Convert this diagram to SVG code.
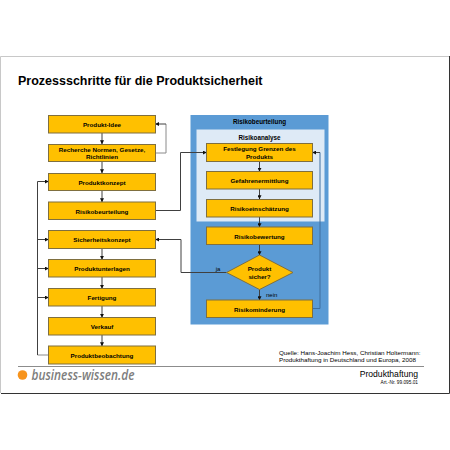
<svg xmlns="http://www.w3.org/2000/svg" width="450" height="450" viewBox="0 0 450 450">
<style>
text{font-family:"Liberation Sans",Arial,sans-serif;fill:#000}
.b rect,.b polygon{fill:#ffc000;stroke:#7f6f3f;stroke-width:1}
.b text{font-size:6.250px;font-weight:bold;text-anchor:middle}
.c path{fill:none;stroke:#404040;stroke-width:1}
.g{stroke:#8a8a8a!important}
.h{font-size:6.300px;font-weight:bold;text-anchor:middle}
</style>
<defs><marker id="a" viewBox="0 0 6 6" refX="5.500" refY="3" markerWidth="4" markerHeight="4" orient="auto" markerUnits="userSpaceOnUse"><path d="M0 0L6 3L0 6Z" fill="#111"/></marker></defs>
<rect width="450" height="450" fill="#fff"/>
<g id="frame">
<path d="M0.500 393V56.500H449" fill="none" stroke="#c8c8c8" stroke-width="1"/>
<path d="M1 393.500H449.500V56" fill="none" stroke="#333" stroke-width="1"/>
<path d="M18 366.500H424" fill="none" stroke="#8c8c8c" stroke-width="1"/>
</g>
<text id="title" x="18" y="84.500" font-size="12.500" font-weight="bold">Prozessschritte für die Produktsicherheit</text>
<g id="panels">
<rect x="190.500" y="115" width="138" height="209.500" fill="#5b9bd5"/>
<rect x="196.500" y="129.500" width="128" height="92" fill="#deeaf6"/>
<text class="h" x="259.500" y="123.500">Risikobeurteilung</text>
<text class="h" x="259.500" y="139.500">Risikoanalyse</text>
</g>
<g id="connectors" class="c">
<path marker-end="url(#a)" d="M102 133V144"/>
<path marker-end="url(#a)" d="M102 161.500V173"/>
<path marker-end="url(#a)" d="M102 190.500V202"/>
<path marker-end="url(#a)" d="M102 248.500V259.500"/>
<path marker-end="url(#a)" d="M102 277V288.500"/>
<path marker-end="url(#a)" d="M102 306V317.500"/>
<path marker-end="url(#a)" d="M102 335V346"/>
<path class="g" d="M155.500 153H166V124"/><path marker-end="url(#a)" d="M166 124H155.500"/>
<path class="g" d="M48.500 355H37.500"/><path marker-end="url(#a)" d="M37.500 355V181.500H48.500"/>
<path marker-end="url(#a)" d="M37.500 239.500H48.500"/>
<path marker-end="url(#a)" d="M37.500 268.500H48.500"/>
<path marker-end="url(#a)" d="M37.500 297.500H48.500"/>
<path marker-end="url(#a)" d="M155.500 210.500H180.500V152.500H206.500"/>
<path marker-end="url(#a)" d="M226.500 272.500H181V239.500H155.500"/>
<path marker-end="url(#a)" d="M259.500 161.500V171.500"/>
<path marker-end="url(#a)" d="M259.500 189V199"/>
<path marker-end="url(#a)" d="M259.500 217V227"/>
<path marker-end="url(#a)" d="M259.500 244.500V255"/>
<path marker-end="url(#a)" d="M259.500 289.500V300"/>
<path style="stroke:#3f6f9f" d="M312.500 308.500H320V152.500"/><path marker-end="url(#a)" d="M320 152.500H312.500"/>
</g>
<g class="b">
<g id="n1"><rect x="48.500" y="115.500" width="107" height="17.500"/><text x="102" y="126.500">Produkt-Idee</text></g>
<g id="n2"><rect x="48.500" y="144.500" width="107" height="17"/><text x="102" y="151.500">Recherche Normen, Gesetze,</text><text x="102" y="159.300">Richtlinien</text></g>
<g id="n3"><rect x="48.500" y="173.500" width="107" height="17"/><text x="102" y="184.500">Produktkonzept</text></g>
<g id="n4"><rect x="48.500" y="202" width="107" height="17.500"/><text x="102" y="213.500">Risikobeurteilung</text></g>
<g id="n5"><rect x="48.500" y="230.500" width="107" height="18"/><text x="102" y="242">Sicherheitskonzept</text></g>
<g id="n6"><rect x="48.500" y="259.500" width="107" height="17.500"/><text x="102" y="271">Produktunterlagen</text></g>
<g id="n7"><rect x="48.500" y="288.500" width="107" height="17.500"/><text x="102" y="300">Fertigung</text></g>
<g id="n8"><rect x="48.500" y="317.500" width="107" height="17.500"/><text x="102" y="329">Verkauf</text></g>
<g id="n9"><rect x="48.500" y="346" width="107" height="18"/><text x="102" y="357.500">Produktbeobachtung</text></g>
<g id="r1"><rect x="206.500" y="143.500" width="106" height="18"/><text x="259.500" y="151.300">Festlegung Grenzen des</text><text x="259.500" y="159">Produkts</text></g>
<g id="r2"><rect x="206.500" y="171.500" width="106" height="17.500"/><text x="259.500" y="182.500">Gefahrenermittlung</text></g>
<g id="r3"><rect x="206.500" y="199.500" width="106" height="17.500"/><text x="259.500" y="210.500">Risikoeinschätzung</text></g>
<g id="r4"><rect x="206.500" y="227" width="106" height="17.500"/><text x="259.500" y="238.500">Risikobewertung</text></g>
<g id="r5"><polygon points="259.500,255 293,272.500 259.500,289.500 226.500,272.500"/><text x="259.500" y="271">Produkt</text><text x="259.500" y="278.500">sicher?</text></g>
<g id="r6"><rect x="206.500" y="300" width="106" height="17.500"/><text x="259.500" y="311.500">Risikominderung</text></g>
</g>
<text x="215.700" y="270.500" font-size="6">ja</text>
<text x="266" y="296.500" font-size="6">nein</text>
<g id="footer">
<text x="279" y="354.500" font-size="6.250">Quelle: Hans-Joachim Hess, Christian Holtermann:</text>
<text x="279" y="362" font-size="6.250">Produkthaftung in Deutschland und Europa, 2008</text>
<text x="418" y="377" font-size="8.600" text-anchor="end">Produkthaftung</text>
<text x="418" y="384" font-size="4.750" text-anchor="end">Art.-Nr. 99.095.01</text>
<circle cx="22.500" cy="375" r="4.800" fill="#f7941d"/>
<text x="31.500" y="379.500" font-size="14" font-weight="600" font-style="italic" style="fill:#7d7d7d;font-family:'Open Sans',sans-serif" textLength="103" lengthAdjust="spacingAndGlyphs">business-wissen.de</text>
</g>
</svg>
